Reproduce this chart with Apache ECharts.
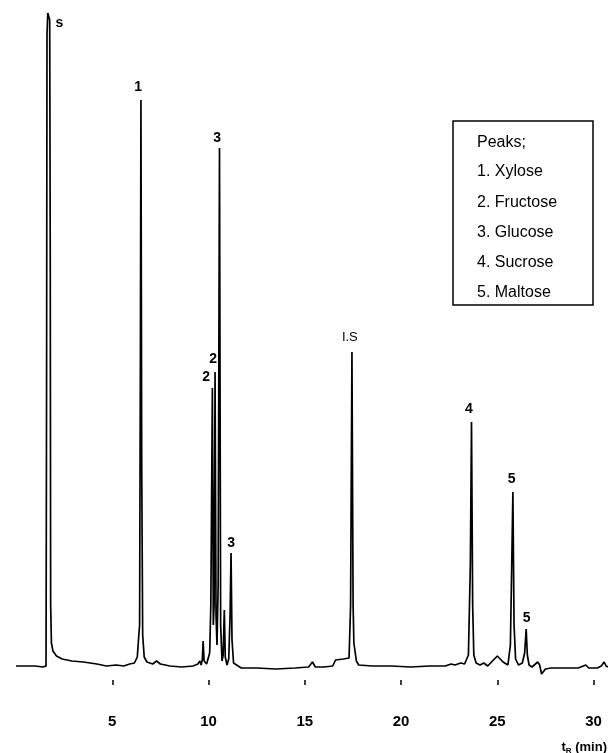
<!DOCTYPE html>
<html><head><meta charset="utf-8">
<script src="https://cdn.jsdelivr.net/npm/echarts@6/dist/echarts.min.js"></script>
<style>html,body{margin:0;padding:0;background:#fff}#c{width:608px;height:753px}</style>
</head><body><div id="c"></div>
<script>
// Retention time (min) of each point of the trace
const traceTime = [
  0.0, 0.5, 1.0, 1.4, 1.56, 1.59, 1.61, 1.65, 1.71, 1.75, 1.78, 1.80, 1.84, 1.92, 2.1, 2.4, 2.9, 3.5, 4.2, 4.7,
  5.2, 5.6, 5.9, 6.15, 6.30, 6.38, 6.42, 6.46, 6.49, 6.53, 6.58, 6.66, 6.8, 7.1, 7.3, 7.5, 8.0, 8.6, 9.2, 9.45,
  9.55, 9.62, 9.68, 9.72, 9.77, 9.9, 9.98, 10.06, 10.12, 10.20, 10.25, 10.29, 10.34, 10.39, 10.44, 10.50, 10.57, 10.63, 10.70, 10.76,
  10.82, 10.87, 10.96, 11.05, 11.12, 11.17, 11.22, 11.30, 11.38, 11.46, 11.7, 12.5, 13.5, 14.5, 15.2, 15.4, 15.55, 16.0, 16.45, 16.6,
  17.0, 17.3, 17.38, 17.45, 17.51, 17.55, 17.62, 17.68, 17.8, 18.5, 19.5, 20.5, 21.5, 22.3, 22.6, 22.8, 23.1, 23.3, 23.5, 23.6,
  23.66, 23.72, 23.78, 23.9, 24.1, 24.3, 24.5, 24.75, 25.0, 25.3, 25.55, 25.68, 25.75, 25.81, 25.87, 25.95, 26.1, 26.3, 26.42, 26.50,
  26.56, 26.65, 26.8, 27.1, 27.2, 27.3, 27.5, 27.8, 28.5, 29.2, 29.6, 29.75, 30.2, 30.4, 30.55, 30.65, 30.75
];
// Detector signal (arbitrary units) at each of those times
const traceSignal = [
  -1, -1, -1, -2, -1, 300, 630, 652, 653, 645, 400, 60, 22, 14, 9, 6, 4, 3, 1, -1,
  0, -1, 1, 2, 8, 30, 40, 300, 565, 200, 30, 8, 3, 1, 4, 1, -1, -2, -1, 1,
  4, 0, 6, 24, 4, 1, 0, 12, 60, 277, 40, 60, 293, 50, 20, 80, 517, 40, 4, 10,
  55, 8, 0, 6, 50, 112, 25, 2, 4, 0, -3, -3, -4, -3, -2, 3, -2, -2, -1, 5,
  6, 7, 60, 313, 60, 22, 20, 4, 0, -1, -1, -2, -1, -1, 1, 0, 2, 1, 10, 100,
  243, 60, 10, 2, 0, 2, -1, 4, 9, 3, 0, 20, 100, 173, 40, 6, 0, 2, 12, 36,
  10, 0, -2, 3, 0, -9, -4, -3, -3, -3, 0, -3, -3, -1, 3, -1, -2
];
// Peak annotations
const peakLabelText = ['s', '1', '3', '2', '2', '3', 'I.S', '4', '5', '5'];
const peakLabelTime = [2.25, 6.35, 10.45, 10.24, 9.88, 11.17, 17.34, 23.52, 25.75, 26.53];
const peakLabelSignal = [642, 578, 527, 306, 288, 122, 328, 256, 186, 47];
// Axis ticks
const tickValues = [5, 10, 15, 20, 25, 30];
// Key box
const legendTitle = 'Peaks;';
const legendItems = ['1. Xylose', '2. Fructose', '3. Glucose', '4. Sucrose', '5. Maltose'];

const INK = '#000';
const FONT = '"Liberation Sans", Arial, Helvetica, sans-serif';

const chart = echarts.init(document.getElementById('c'), null, {renderer: 'canvas'});

const traceData = traceTime.map((t, i) => [t, traceSignal[i]]);
const labelData = peakLabelText.map((txt, i) => ({
  name: txt,
  value: [peakLabelTime[i], peakLabelSignal[i]],
  label: txt === 'I.S' ? {fontWeight: 'normal', fontSize: 13} : {}
}));

const legendGraphics = [
  {type: 'rect', shape: {x: 453, y: 121, width: 140, height: 184},
   style: {fill: '#fff', stroke: INK, lineWidth: 1.5}, z: 10},
  {type: 'text', x: 477, y: 143, z: 11,
   style: {text: legendTitle, font: '16px ' + FONT, fill: INK, verticalAlign: 'middle'}}
];
legendItems.forEach((s, i) => {
  legendGraphics.push({type: 'text', x: 477, y: 172 + i * 30.2, z: 11,
    style: {text: s, font: '16px ' + FONT, fill: INK, verticalAlign: 'middle'}});
});
legendGraphics.push({
  type: 'text', right: 1, top: 741, z: 11,
  style: {
    text: '{t|t}{r|R}{t| (min)}',
    rich: {
      t: {fontSize: 13, fontWeight: 'bold', fontFamily: FONT, fill: INK, color: INK},
      r: {fontSize: 8, fontWeight: 'bold', fontFamily: FONT, fill: INK, color: INK, padding: [6, 0, 0, 0]}
    }
  }
});

chart.setOption({
  animation: false,
  backgroundColor: '#fff',
  grid: {left: 16, right: 0, top: 0, bottom: 73},
  xAxis: {
    type: 'value', min: 0, max: 30.75,
    axisLine: {show: false, onZero: false},
    splitLine: {show: false},
    axisTick: {show: true, customValues: tickValues, length: 5, lineStyle: {color: INK, width: 1.5}},
    axisLabel: {customValues: tickValues, margin: 34, fontSize: 15, fontWeight: 'bold', color: INK, fontFamily: FONT}
  },
  yAxis: {type: 'value', min: -15, max: 665, show: false},
  series: [
    {
      type: 'line', data: traceData, showSymbol: false, silent: true,
      lineStyle: {color: INK, width: 1.7}, z: 2
    },
    {
      type: 'scatter', data: labelData, symbolSize: 0, silent: true, z: 3,
      itemStyle: {opacity: 1},
      label: {show: true, position: 'inside', formatter: '{b}', color: INK, opacity: 1,
        fontSize: 14, fontWeight: 'bold', fontFamily: FONT}
    }
  ],
  graphic: legendGraphics
});
</script></body></html>
